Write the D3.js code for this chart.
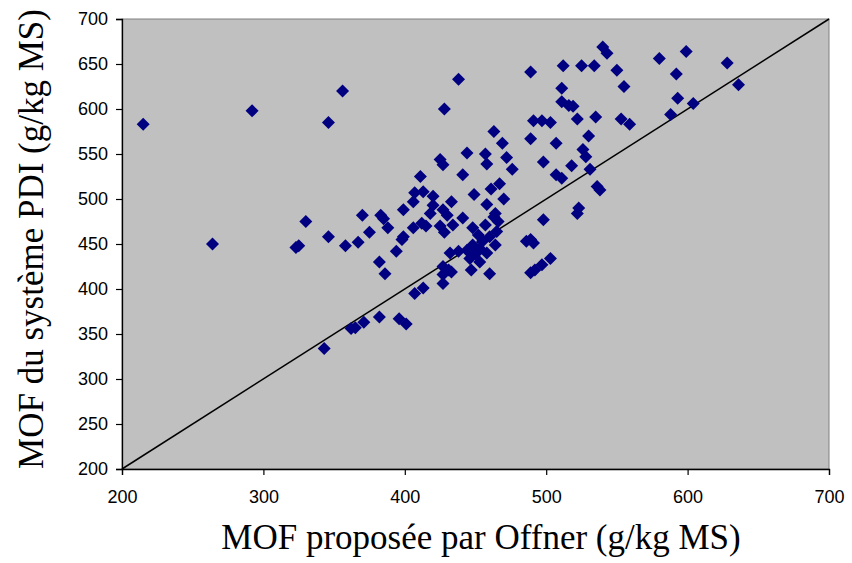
<!DOCTYPE html>
<html>
<head>
<meta charset="utf-8">
<script src="https://cdn.jsdelivr.net/npm/d3@7"></script>
<style>
  html, body { margin: 0; padding: 0; background: #fff; }
  svg { display: block; }
</style>
</head>
<body>
<svg id="chart" width="852" height="563"></svg>
<script>
// MOF proposée par Offner (x) vs MOF du système PDI (y), g/kg MS
const offner = [
  215, 292, 264, 346, 356, 330, 323, 325, 346, 358, 367, 370, 375, 343, 362, 365, 371, 382, 396, 401,
  382, 386, 383, 385, 388, 394, 398, 399, 399, 406, 407, 413, 420, 411, 425, 427, 433, 427, 430, 418,
  412, 406, 415, 425, 428, 434, 441, 441, 444, 457, 458, 463, 469, 472, 476, 449, 461, 467, 470, 458,
  464, 466, 465, 457, 448, 460, 455, 448, 464, 453, 444, 438, 432, 458, 446, 453, 447, 460, 431, 427,
  427, 413, 407, 427, 433, 428, 438, 489, 489, 491, 497, 503, 498, 507, 507, 511, 512, 525, 534, 540,
  543, 550, 555, 511, 511, 516, 519, 522, 535, 553, 559, 530, 526, 528, 531, 518, 536, 538, 523, 522,
  498, 489, 491, 503, 497, 489, 492, 580, 599, 628, 592, 593, 604, 588, 636, 420, 452, 486, 463, 450
];
const pdi = [
  583, 598, 450, 585, 620, 475, 446, 448, 458, 448, 452, 482, 463, 334, 356, 357, 363, 369, 367, 361,
  430, 417, 482, 478, 468, 442, 455, 458, 488, 497, 507, 508, 503, 525, 544, 538, 497, 488, 482, 484,
  473, 468, 470, 470, 463, 471, 479, 527, 551, 550, 539, 575, 562, 546, 533, 505, 511, 517, 500, 494,
  484, 475, 464, 471, 468, 458, 453, 449, 449, 445, 443, 442, 440, 440, 434, 430, 421, 417, 421, 416,
  406, 401, 395, 425, 419, 600, 633, 641, 567, 587, 587, 585, 541, 562, 527, 523, 648, 648, 648, 669,
  662, 643, 625, 623, 608, 604, 603, 589, 591, 589, 583, 570, 555, 547, 533, 537, 514, 510, 490, 484,
  477, 455, 451, 434, 427, 418, 421, 656, 664, 651, 639, 612, 606, 594, 627, 493, 460, 453, 480, 439
];

const xTicks = [200, 300, 400, 500, 600, 700];
const yTicks = [200, 250, 300, 350, 400, 450, 500, 550, 600, 650, 700];

const xTitle = "MOF proposée par Offner (g/kg MS)";
const yTitle = "MOF du système PDI (g/kg MS)";

const svg = d3.select("#chart");
const plot = { left: 122, right: 829, top: 19, bottom: 469 };

const x = d3.scaleLinear().domain([200, 700]).range([plot.left, plot.right]);
const y = d3.scaleLinear().domain([200, 700]).range([plot.bottom, plot.top]);

// plot area background with a gray frame
svg.append("rect")
  .attr("x", plot.left).attr("y", plot.top)
  .attr("width", plot.right - plot.left).attr("height", plot.bottom - plot.top)
  .attr("fill", "#c0c0c0")
  .attr("stroke", "#808080").attr("stroke-width", 1);

// 1:1 reference line
svg.append("line")
  .attr("x1", x(200)).attr("y1", y(200))
  .attr("x2", x(700)).attr("y2", y(700))
  .attr("stroke", "#000").attr("stroke-width", 1.5);

// diamond markers
const diamond = (cx, cy, r) => `M${cx},${cy - r}L${cx + r},${cy}L${cx},${cy + r}L${cx - r},${cy}Z`;
svg.append("g").selectAll("path")
  .data(d3.range(offner.length))
  .join("path")
  .attr("d", i => diamond(x(offner[i]), y(pdi[i]), 6.5))
  .attr("fill", "#000080");

// axes
const xAxis = svg.append("g")
  .attr("transform", `translate(0,${plot.bottom})`)
  .call(d3.axisBottom(x).tickValues(xTicks).tickSize(6).tickPadding(15).tickFormat(d3.format("d")));
const yAxis = svg.append("g")
  .attr("transform", `translate(${plot.left},0)`)
  .call(d3.axisLeft(y).tickValues(yTicks).tickSize(6).tickPadding(8).tickFormat(d3.format("d")));

[xAxis, yAxis].forEach(g => {
  g.select(".domain").attr("stroke", "#000").attr("stroke-width", 1.3);
  g.selectAll(".tick line").attr("stroke", "#000").attr("stroke-width", 1.2);
  g.selectAll(".tick text")
    .attr("fill", "#000")
    .style("font-family", "'Liberation Sans', Arial, sans-serif")
    .style("font-size", "18px");
});

// axis titles
svg.append("text")
  .attr("x", 481).attr("y", 549)
  .attr("text-anchor", "middle")
  .style("font-family", "'Liberation Serif', 'Times New Roman', serif")
  .style("font-size", "35px")
  .text(xTitle);

svg.append("text")
  .attr("transform", `translate(43,${(plot.top + plot.bottom) / 2 - 5}) rotate(-90)`)
  .attr("text-anchor", "middle")
  .style("font-family", "'Liberation Serif', 'Times New Roman', serif")
  .style("font-size", "35px")
  .text(yTitle);
</script>
</body>
</html>
